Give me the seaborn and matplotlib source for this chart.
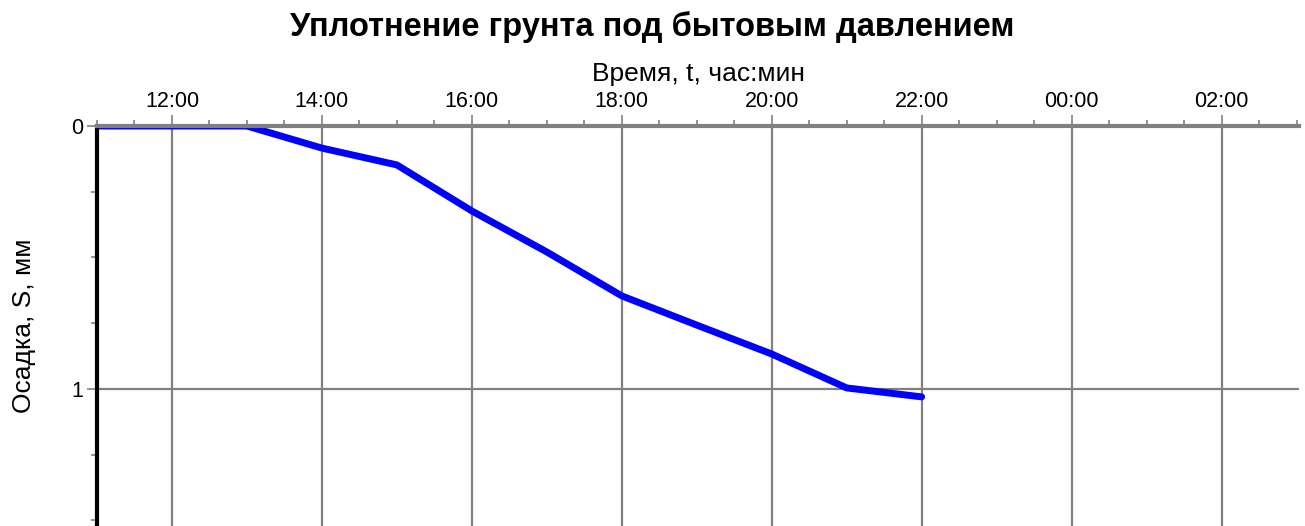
import matplotlib
matplotlib.use("Agg")
import matplotlib.pyplot as plt
import matplotlib.dates as mdates
import matplotlib.ticker as mticker
import seaborn as sns
import pandas as pd
import numpy as np

# Data
times = ["2024-01-01 11:00", "2024-01-01 12:00", "2024-01-01 13:00", "2024-01-01 14:00",
         "2024-01-01 15:00", "2024-01-01 16:00", "2024-01-01 17:00", "2024-01-01 18:00",
         "2024-01-01 19:00", "2024-01-01 20:00", "2024-01-01 21:00", "2024-01-01 22:00"]
settlement = [0.0, 0.0, 0.0, 0.084, 0.148, 0.323, 0.479, 0.646, 0.757, 0.867, 0.996, 1.03]
x_start = "2024-01-01 11:00"
x_end = "2024-01-02 03:02"
y_ticks = [0, 1]

title = "Уплотнение грунта под бытовым давлением"
xlabel = "Время, t, час:мин"
ylabel = "Осадка, S, мм"

sns.set_theme(style="white")
plt.rcParams['font.family'] = ['Liberation Sans', 'DejaVu Sans']
plt.rcParams['text.color'] = 'black'
plt.rcParams['axes.labelcolor'] = 'black'
plt.rcParams['xtick.labelcolor'] = 'black'
plt.rcParams['ytick.labelcolor'] = 'black'

df = pd.DataFrame({"t": pd.to_datetime(times), "s": settlement})

fig = plt.figure(figsize=(13.05, 5.26), dpi=100)
ax = fig.add_axes([97/1305, 0.0, (1299-97)/1305, 1 - 126/526])

sns.lineplot(data=df, x="t", y="s", ax=ax, color="#0000FF", linewidth=5,
             solid_capstyle="round", solid_joinstyle="round")

ax.set_xlim(pd.Timestamp(x_start), pd.Timestamp(x_end))
ax.set_ylim(1.521, 0)

ax.xaxis.tick_top()
ax.xaxis.set_label_position("top")
ax.xaxis.set_major_locator(mdates.HourLocator(byhour=range(0, 24, 2)))
ax.xaxis.set_major_formatter(mdates.DateFormatter("%H:%M"))
ax.xaxis.set_minor_locator(mdates.MinuteLocator(byminute=[0, 30]))
ax.yaxis.set_major_locator(mticker.FixedLocator(y_ticks))
ax.yaxis.set_minor_locator(mticker.MultipleLocator(0.25))

ax.grid(True, which="major", color="#808080", linewidth=1.6)
ax.set_axisbelow(True)

ax.tick_params(axis="x", which="major", top=True, bottom=False, length=8, width=1.2,
               color="#808080", labelsize=15.5, pad=2, direction="out", labelcolor="black")
ax.tick_params(axis="x", which="minor", top=True, bottom=False, length=4, width=1.2,
               color="#808080", direction="out")
ax.tick_params(axis="y", which="major", left=True, length=7, width=1.2,
               color="#808080", labelsize=15.5, pad=3, direction="out", labelcolor="black")
ax.tick_params(axis="y", which="minor", left=True, length=4, width=1.2,
               color="#808080", direction="out")

for side in ["right", "bottom"]:
    ax.spines[side].set_visible(False)
ax.spines["top"].set_color("#808080")
ax.spines["top"].set_linewidth(3)
ax.spines["left"].set_color("black")
ax.spines["left"].set_linewidth(3)

ax.set_xlabel(xlabel, fontsize=19, labelpad=7, color="black")
ax.set_ylabel(ylabel, fontsize=19, labelpad=25, color="black")

fig.suptitle(title, fontsize=23.5, fontweight="bold", x=0.5, y=0.978, color="black")

fig.savefig("out.png", dpi=100)
